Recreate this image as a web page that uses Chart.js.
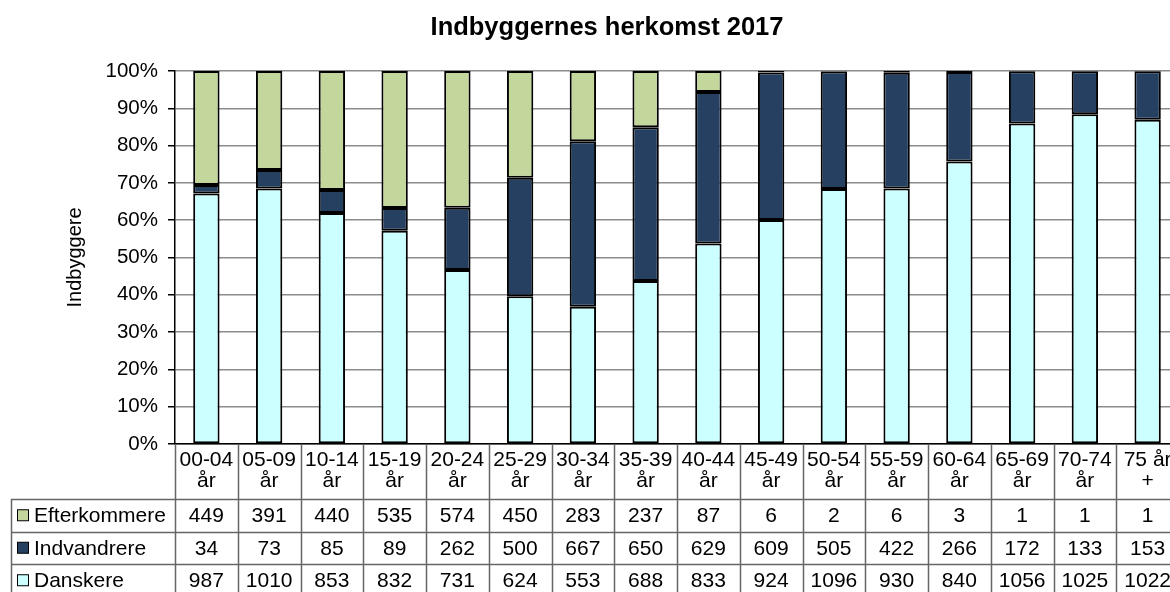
<!DOCTYPE html>
<html>
<head>
<meta charset="utf-8">
<script src="https://cdn.jsdelivr.net/npm/chart.js@4"></script>
<style>
  html, body { margin: 0; padding: 0; background: #fff; overflow: hidden; }
  #wrap { width: 1179px; height: 592px; }
</style>
</head>
<body>
<div id="wrap"><canvas id="herkomstChart" width="1179" height="592"></canvas></div>
<script>
const categories = [
    ['00-04', 'år'], ['05-09', 'år'], ['10-14', 'år'], ['15-19', 'år'],
    ['20-24', 'år'], ['25-29', 'år'], ['30-34', 'år'], ['35-39', 'år'],
    ['40-44', 'år'], ['45-49', 'år'], ['50-54', 'år'], ['55-59', 'år'],
    ['60-64', 'år'], ['65-69', 'år'], ['70-74', 'år'], ['75 år', '+']
];
const seriesNames = ['Efterkommere', 'Indvandrere', 'Danskere'];
const efterkommere = [449, 391, 440, 535, 574, 450, 283, 237, 87, 6, 2, 6, 3, 1, 1, 1];
const indvandrere = [34, 73, 85, 89, 262, 500, 667, 650, 629, 609, 505, 422, 266, 172, 133, 153];
const danskere = [987, 1010, 853, 832, 731, 624, 553, 688, 833, 924, 1096, 930, 840, 1056, 1025, 1022];
const colors = { Efterkommere: '#c3d69b', Indvandrere: '#254061', Danskere: '#ccffff' };

const FONT = "'Liberation Sans', Arial, sans-serif";

// share of each age group, so the stacked bars add up to 100%
function share(values) {
    return values.map((v, i) => v / (efterkommere[i] + indvandrere[i] + danskere[i]) * 100);
}

const tablePlugin = {
    id: 'dataTable',
    afterDraw(chart) {
        const ctx = chart.ctx;
        const x = chart.scales.x;
        const area = chart.chartArea;
        const step = x.getPixelForValue(1) - x.getPixelForValue(0);
        const rows = [
            { name: 'Efterkommere', values: efterkommere },
            { name: 'Indvandrere', values: indvandrere },
            { name: 'Danskere', values: danskere }
        ];
        const headTop = area.bottom;
        const rowTop = 499;
        const rowH = 32.5;
        const leftEdge = 11;

        ctx.save();
        // chart title
        ctx.fillStyle = '#000';
        ctx.font = 'bold 25.5px ' + FONT;
        ctx.textAlign = 'center';
        ctx.textBaseline = 'middle';
        ctx.fillText('Indbyggernes herkomst 2017', 607, 28);

        // grid of the table
        ctx.strokeStyle = '#666';
        ctx.lineWidth = 1.5;
        ctx.beginPath();
        for (let i = 0; i <= categories.length; i++) {
            const px = Math.round(area.left + i * step) + 0.5;
            ctx.moveTo(px, headTop);
            ctx.lineTo(px, 600);
        }
        for (let r = 0; r <= rows.length; r++) {
            const py = Math.round(rowTop + r * rowH) + 0.5;
            ctx.moveTo(leftEdge, py);
            ctx.lineTo(chart.width, py);
        }
        ctx.moveTo(leftEdge + 0.5, rowTop);
        ctx.lineTo(leftEdge + 0.5, 600);
        ctx.stroke();

        // header labels
        ctx.fillStyle = '#000';
        ctx.font = '21px ' + FONT;
        categories.forEach((lines, i) => {
            const cx = x.getPixelForValue(i);
            ctx.fillText(lines[0], cx, 460);
            ctx.fillText(lines[1], cx, 481);
        });

        // rows
        rows.forEach((row, r) => {
            const cy = rowTop + r * rowH + rowH / 2 + 1;
            ctx.fillStyle = colors[row.name];
            ctx.strokeStyle = '#000';
            ctx.lineWidth = 1;
            ctx.fillRect(17.5, cy - 6.5, 11, 11);
            ctx.strokeRect(17.5, cy - 6.5, 11, 11);
            ctx.fillStyle = '#000';
            ctx.textAlign = 'left';
            ctx.fillText(row.name, 34, cy);
            ctx.textAlign = 'center';
            row.values.forEach((v, i) => {
                ctx.fillText(String(v), x.getPixelForValue(i), cy);
            });
        });
        ctx.restore();
    }
};

const ctx = document.getElementById('herkomstChart').getContext('2d');
new Chart(ctx, {
    type: 'bar',
    data: {
        labels: categories.map(c => c.join(' ')),
        datasets: [
            { label: 'Danskere', data: share(danskere), backgroundColor: colors.Danskere },
            { label: 'Indvandrere', data: share(indvandrere), backgroundColor: colors.Indvandrere },
            { label: 'Efterkommere', data: share(efterkommere), backgroundColor: colors.Efterkommere }
        ].map(ds => Object.assign(ds, {
            borderColor: '#000',
            borderWidth: 2,
            borderSkipped: false,
            categoryPercentage: 1,
            barPercentage: 0.42
        }))
    },
    options: {
        responsive: false,
        animation: false,
        layout: { padding: { top: 71, left: 0, right: 0, bottom: 0 } },
        plugins: {
            legend: { display: false },
            tooltip: { enabled: false },
            title: { display: false }
        },
        scales: {
            x: {
                stacked: true,
                ticks: { display: false },
                grid: { display: false },
                border: { display: true, color: '#000', width: 1.5 },
                afterFit(scale) { scale.height = 148; }
            },
            y: {
                stacked: true,
                min: 0,
                max: 100,
                ticks: {
                    stepSize: 10,
                    color: '#000',
                    font: { family: FONT, size: 20.5 },
                    padding: 10,
                    callback: v => v + '%'
                },
                grid: { color: '#8c8c8c', lineWidth: 1.5, tickLength: 7, tickColor: '#000' },
                border: { display: true, color: '#000', width: 1.5 },
                title: {
                    display: true,
                    text: 'Indbyggere',
                    color: '#000',
                    font: { family: FONT, size: 20 },
                    padding: { top: 63, bottom: 0 }
                },
                afterFit(scale) { scale.width = 175; }
            }
        }
    },
    plugins: [tablePlugin]
});
</script>
</body>
</html>
